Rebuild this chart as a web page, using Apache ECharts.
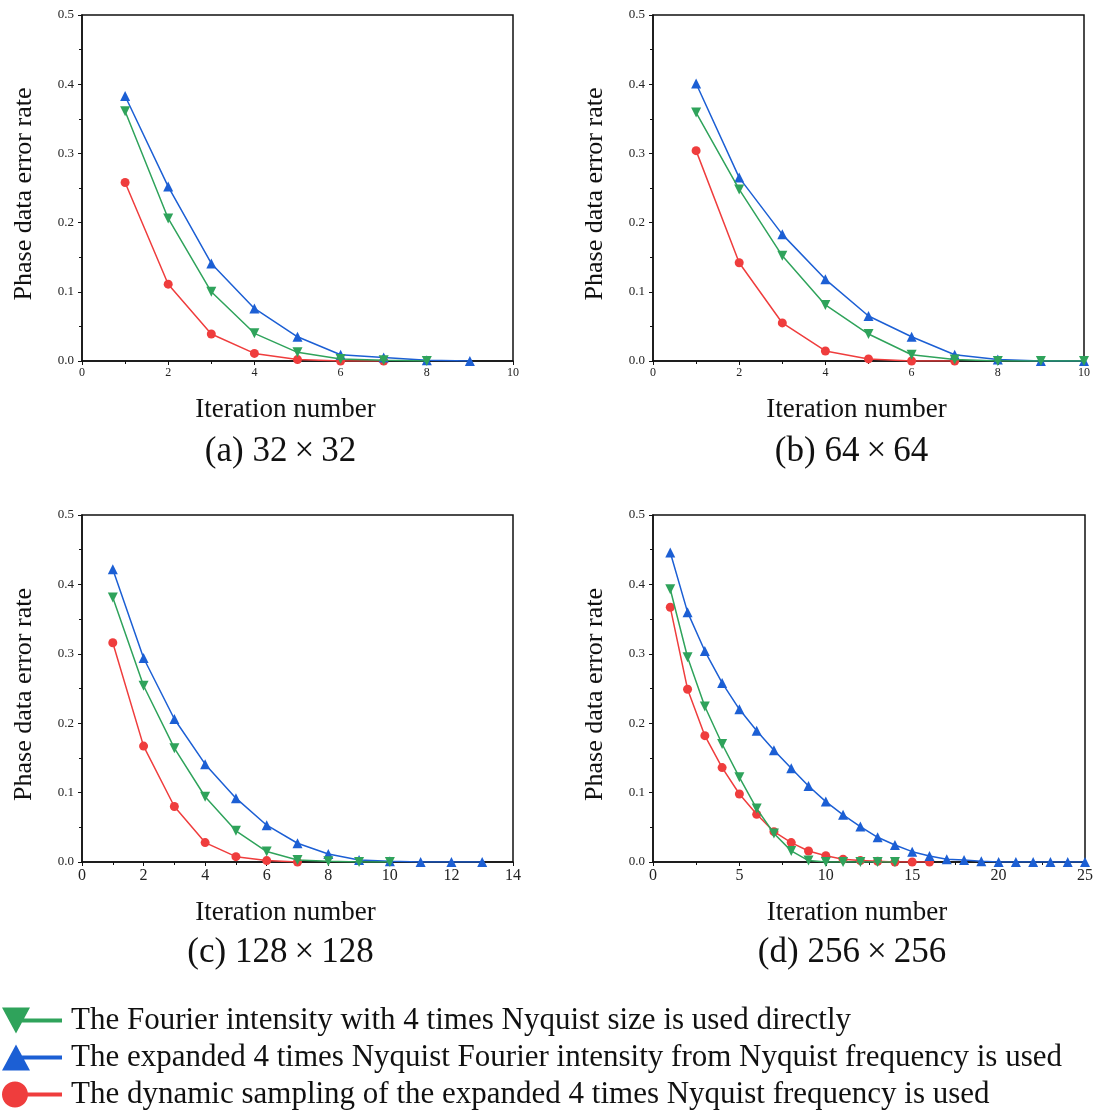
<!DOCTYPE html>
<html>
<head>
    <meta charset="UTF-8">
    <title>Phase data error rate</title>
    <script src="https://cdn.jsdelivr.net/npm/echarts@6/dist/echarts.min.js"></script>
</head>
<body style="margin:0; background:#fff;">
    <div id="main" style="width:1106px; height:1111px;"></div>
    <script>
        // error rate per iteration (x = 1, 2, 3, ...)
        var direct_a  = [0.361, 0.206, 0.100, 0.040, 0.0125, 0.003, 0.001, 0];
        var expand_a  = [0.383, 0.252, 0.141, 0.076, 0.035, 0.009, 0.005, 0.001, 0];
        var dynamic_a = [0.258, 0.111, 0.039, 0.011, 0.002, 0, 0];

        var direct_b  = [0.359, 0.248, 0.152, 0.081, 0.039, 0.009, 0.002, 0, 0, 0];
        var expand_b  = [0.401, 0.265, 0.183, 0.118, 0.065, 0.035, 0.009, 0.002, 0, 0];
        var dynamic_b = [0.304, 0.142, 0.055, 0.0145, 0.003, 0, 0];

        var direct_c  = [0.381, 0.254, 0.164, 0.094, 0.045, 0.015, 0.003, 0.001, 0, 0];
        var expand_c  = [0.422, 0.294, 0.206, 0.141, 0.092, 0.053, 0.027, 0.0115, 0.003, 0.001, 0, 0, 0];
        var dynamic_c = [0.316, 0.167, 0.080, 0.028, 0.0077, 0.002, 0];

        var direct_d  = [0.393, 0.295, 0.224, 0.170, 0.122, 0.077, 0.041, 0.016, 0.002, 0, 0, 0, 0, 0];
        var expand_d  = [0.446, 0.360, 0.304, 0.258, 0.220, 0.189, 0.161, 0.135, 0.1095, 0.087, 0.068, 0.051,
                         0.0356, 0.0245, 0.0149, 0.0086, 0.004, 0.003, 0.001, 0, 0, 0, 0, 0, 0];
        var dynamic_d = [0.367, 0.249, 0.182, 0.136, 0.098, 0.0687, 0.0437, 0.028, 0.0158, 0.0091, 0.004, 0.002,
                         0.001, 0, 0, 0];

        var xMax      = [10, 10, 14, 25];
        var xInterval = [2, 2, 2, 5];
        var captions  = ['(a) 32\u2009×\u200932', '(b) 64\u2009×\u200964', '(c) 128\u2009×\u2009128', '(d) 256\u2009×\u2009256'];
        var names = [
            'The Fourier intensity with 4 times Nyquist size is used directly',
            'The expanded 4 times Nyquist Fourier intensity from Nyquist frequency is used',
            'The dynamic sampling of the expanded 4 times Nyquist frequency is used'
        ];
        var colors  = ['#2fa35b', '#1c5fd4', '#ef3d3d'];
        var symbols = ['path://M0,0L10,0L5,9Z', 'triangle', 'circle'];
        // legend icons: marker on the left, thick line to the right (60 x 26 box)
        var legendIcons = [
            'path://M0,0L28,0L14,26ZM14,11L60,11L60,15L14,15Z',
            'path://M14,0L28,26L0,26ZM14,11L60,11L60,15L14,15Z',
            'path://M0,13C0,5.82,5.82,0,13,0C20.18,0,26,5.82,26,13C26,20.18,20.18,26,13,26C5.82,26,0,20.18,0,13ZM14,11L60,11L60,15L14,15Z'
        ];

        var panels = [
            [direct_a, expand_a, dynamic_a],
            [direct_b, expand_b, dynamic_b],
            [direct_c, expand_c, dynamic_c],
            [direct_d, expand_d, dynamic_d]
        ];

        var boxes = [
            { left: 82, top: 15, width: 431, height: 346 },
            { left: 653, top: 15, width: 431, height: 346 },
            { left: 82, top: 515, width: 431, height: 347 },
            { left: 653, top: 515, width: 432, height: 347 }
        ];
        var xLabelSize = [12, 12, 16, 16];

        var serif = 'Liberation Serif';

        var grids = [], xAxes = [], yAxes = [], series = [], texts = [];

        boxes.forEach(function (b, i) {
            grids.push({
                left: b.left, top: b.top, width: b.width, height: b.height,
                show: true, borderColor: '#111', borderWidth: 1.5, backgroundColor: 'transparent'
            });
            xAxes.push({
                gridIndex: i, type: 'value', min: 0, max: xMax[i], interval: xInterval[i],
                name: 'Iteration number', nameLocation: 'middle', nameGap: xLabelSize[i] > 12 ? 37 : 35,
                nameTextStyle: { fontFamily: serif, fontSize: 27, color: '#111', padding: [0, 24, 0, 0] },
                axisLine: { lineStyle: { color: '#111', width: 1.5 } },
                axisTick: { length: 4, lineStyle: { color: '#111' } },
                minorTick: { show: true, splitNumber: 2, length: 3, lineStyle: { color: '#111' } },
                axisLabel: { fontFamily: serif, fontSize: xLabelSize[i], color: '#222', margin: 6 },
                splitLine: { show: false }
            });
            yAxes.push({
                gridIndex: i, type: 'value', min: 0, max: 0.5, interval: 0.1,
                name: 'Phase data error rate', nameLocation: 'middle', nameGap: 45,
                nameTextStyle: { fontFamily: serif, fontSize: 26, color: '#111', padding: [0, 12, 0, 0] },
                axisLine: { show: true, lineStyle: { color: '#111', width: 1.5 } },
                axisTick: { show: true, length: 4, lineStyle: { color: '#111' } },
                minorTick: { show: true, splitNumber: 2, length: 3, lineStyle: { color: '#111' } },
                axisLabel: {
                    fontFamily: serif, fontSize: 13, color: '#222', margin: 8,
                    formatter: function (v) { return v.toFixed(1); }
                },
                splitLine: { show: false }
            });
            panels[i].forEach(function (vals, k) {
                series.push({
                    name: names[k],
                    type: 'line',
                    xAxisIndex: i, yAxisIndex: i,
                    data: vals.map(function (v, j) { return [j + 1, v]; }),
                    symbol: symbols[k],
                    symbolSize: k === 2 ? 9 : 10,
                    z: 3 - k,
                    itemStyle: { color: colors[k] },
                    lineStyle: { color: colors[k], width: 1.5 }
                });
            });
            texts.push({
                type: 'text',
                x: b.left + b.width / 2 - 17, y: b.top + b.height + 73,
                style: { text: captions[i], font: '35px "Liberation Serif"', fill: '#111', align: 'center' }
            });
        });

        var chart = echarts.init(document.getElementById('main'));
        chart.setOption({
            animation: false,
            backgroundColor: '#fff',
            grid: grids,
            xAxis: xAxes,
            yAxis: yAxes,
            series: series,
            legend: {
                data: names.map(function (n, k) {
                    return { name: n, icon: legendIcons[k], symbolRotate: 0 };
                }),
                orient: 'vertical',
                left: 2, top: 1005, padding: 0,
                itemWidth: 60, itemHeight: 26, itemGap: 6,
                symbolRotate: 0,
                textStyle: { fontFamily: serif, fontSize: 31, lineHeight: 31, color: '#111', padding: [0, 0, 0, 4] }
            },
            graphic: texts
        });
    </script>
</body>
</html>
